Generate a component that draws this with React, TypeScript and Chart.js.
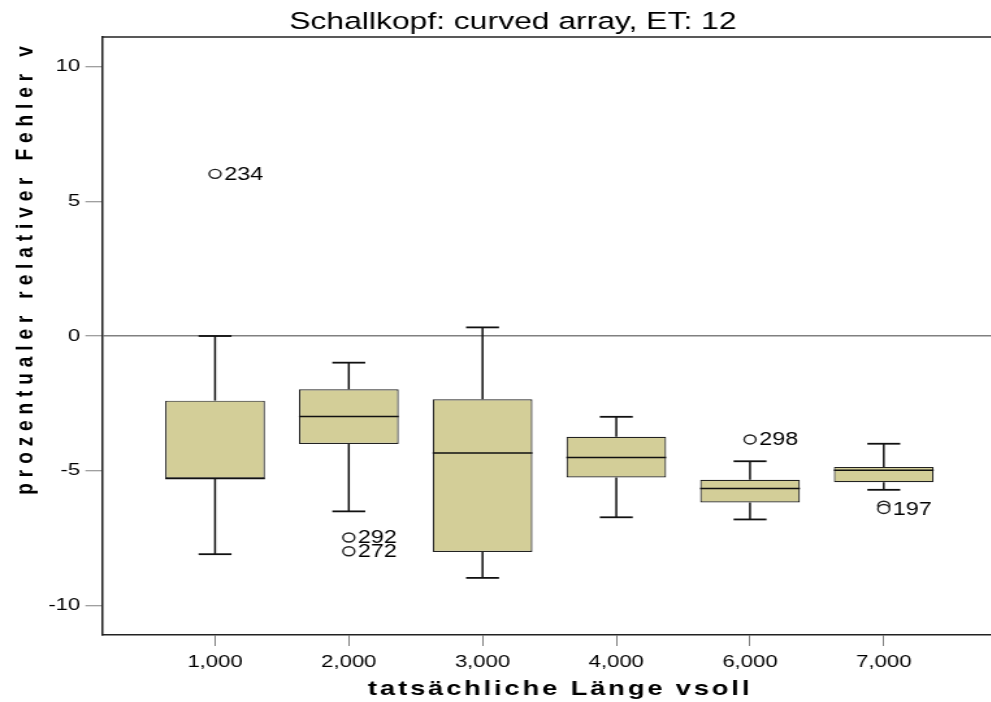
import React, { useEffect, useRef } from 'react';
import { Chart, registerables, LinearScale } from 'chart.js';

Chart.register(...registerables);

// Linear scale whose axis title can carry letter spacing and a shift along the axis
class SpacedLinearScale extends LinearScale {
  static id = 'spacedLinear';
  static defaults = LinearScale.defaults;
  drawTitle() {
    const opts: any = this.options;
    const ctx: any = this.ctx;
    const shift = opts.titleShift || 0;
    ctx.save();
    ctx.letterSpacing = (opts.titleLetterSpacing || 0) + 'px';
    const top = this.top;
    const bottom = this.bottom;
    this.top = top + shift;
    this.bottom = bottom + shift;
    super.drawTitle();
    this.top = top;
    this.bottom = bottom;
    ctx.restore();
  }
}
Chart.register(SpacedLinearScale);

// ---- data ----
const categories = ['1,000', '2,000', '3,000', '4,000', '6,000', '7,000'];
const categoryPositions = [1, 2, 3, 4, 5, 6];
const lowerWhisker = [-8.1, -6.51, -8.98, -6.73, -6.81, -5.71];
const q1 = [-5.29, -4.01, -8.02, -5.25, -6.18, -5.43];
const medians = [-5.29, -2.99, -4.34, -4.51, -5.66, -4.98];
const q3 = [-2.4, -1.98, -2.35, -3.74, -5.34, -4.86];
const upperWhisker = [0.0, -0.99, 0.32, -3.0, -4.65, -4.0];
const outlierCategories = ['1,000', '2,000', '2,000', '6,000', '7,000', '7,000'];
const outlierValues = [6.02, -7.48, -7.99, -3.84, -6.3, -6.42];
const outlierLabels = ['234', '292', '272', '298', '', '197'];
const yTicks = [-10, -5, 0, 5, 10];

const FONT = "'Liberation Sans', Arial, Helvetica, sans-serif";
const STRETCH = 1.3;
const CANVAS_W = 789;
const CANVAS_H = 702;

const boxPlugin = {
  id: 'boxWhiskers',
  afterDatasetsDraw(chart: any) {
    const { ctx } = chart;
    const x = chart.scales.x;
    const y = chart.scales.y;
    const meta = chart.getDatasetMeta(0);
    const line = (x1: number, y1: number, x2: number, y2: number, w: number) => {
      ctx.beginPath();
      ctx.lineWidth = w;
      ctx.moveTo(x1, y1);
      ctx.lineTo(x2, y2);
      ctx.stroke();
    };
    ctx.save();
    ctx.strokeStyle = '#111';
    categoryPositions.forEach((pos, i) => {
      const bar = meta.data[i];
      const cx = x.getPixelForValue(pos);
      const w = bar ? bar.width : 77;
      const cap = w * 0.33;
      const yQ3 = y.getPixelForValue(q3[i]);
      const yQ1 = y.getPixelForValue(q1[i]);
      const yUp = y.getPixelForValue(upperWhisker[i]);
      const yLo = y.getPixelForValue(lowerWhisker[i]);
      const yMed = y.getPixelForValue(medians[i]);
      line(cx, yQ3, cx, yUp, 1.5);
      line(cx, yQ1, cx, yLo, 1.5);
      line(cx - cap / 2, yUp, cx + cap / 2, yUp, 1.8);
      line(cx - cap / 2, yLo, cx + cap / 2, yLo, 1.8);
      line(cx - w / 2, yMed, cx + w / 2, yMed, 1.5);
    });
    // outlier labels
    ctx.fillStyle = '#000';
    ctx.font = `18px ${FONT}`;
    ctx.textBaseline = 'middle';
    ctx.textAlign = 'left';
    outlierValues.forEach((v, i) => {
      if (!outlierLabels[i]) return;
      const pos = categoryPositions[categories.indexOf(outlierCategories[i])];
      ctx.fillText(outlierLabels[i], x.getPixelForValue(pos) + 7, y.getPixelForValue(v) + 1);
    });
    ctx.restore();
  },
  afterDraw(chart: any) {
    const { ctx, chartArea } = chart;
    ctx.save();
    ctx.strokeStyle = '#222';
    ctx.lineWidth = 1.5;
    ctx.beginPath();
    ctx.moveTo(chartArea.left, chartArea.top);
    ctx.lineTo(chartArea.right, chartArea.top);
    ctx.stroke();
    ctx.restore();
  },
};

export default function App() {
  const canvasRef = useRef<HTMLCanvasElement | null>(null);

  useEffect(() => {
    if (!canvasRef.current) return;
    const chart = new Chart(canvasRef.current, {
      type: 'bar',
      data: {
        datasets: [
          {
            type: 'bar',
            data: categoryPositions.map((p, i) => ({ x: p, y: [q1[i], q3[i]] })),
            backgroundColor: '#d3ce98',
            borderColor: '#222',
            borderWidth: 1.2,
            borderSkipped: false,
            barPercentage: 0.746,
            categoryPercentage: 1,
            order: 2,
          } as any,
          {
            type: 'scatter',
            data: outlierValues.map((v, i) => ({
              x: categoryPositions[categories.indexOf(outlierCategories[i])],
              y: v,
            })),
            pointRadius: 4.5,
            pointBackgroundColor: '#fff',
            pointBorderColor: '#222',
            pointBorderWidth: 1.4,
            order: 1,
          } as any,
        ],
      },
      options: {
        animation: false,
        responsive: false,
        devicePixelRatio: 1,
        events: [],
        layout: { padding: 0 },
        plugins: {
          legend: { display: false },
          tooltip: { enabled: false },
          title: {
            display: true,
            text: 'Schallkopf: curved array, ET: 12',
            color: '#000',
            font: { family: FONT, size: 24.5, weight: 'normal', lineHeight: 1.2 },
            padding: { top: 7.6, bottom: 0 },
          },
        },
        scales: {
          x: {
            type: 'spacedLinear',
            position: 'bottom',
            min: 0.157,
            max: 7.004,
            offset: false,
            afterBuildTicks: (s: any) => {
              s.ticks = categoryPositions.map((v) => ({ value: v }));
            },
            afterFit: (s: any) => {
              s.height = 67;
            },
            grid: {
              display: true,
              drawOnChartArea: false,
              offset: false,
              tickLength: 11,
              tickColor: '#808080',
              tickWidth: 1,
            },
            border: { display: true, color: '#222', width: 1.5 },
            ticks: {
              autoSkip: false,
              maxRotation: 0,
              padding: 6,
              color: '#000',
              font: { family: FONT, size: 17 },
              callback: (v: any) => {
                const idx = categoryPositions.indexOf(Number(v));
                return idx >= 0 ? categories[idx] : '';
              },
            },
            title: {
              display: true,
              text: 'tatsächliche Länge vsoll',
              color: '#000',
              font: { family: FONT, size: 21, weight: 'bold', lineHeight: 1.2 },
              padding: { top: 0, bottom: 0 },
            },
            titleLetterSpacing: 2.2,
          } as any,
          y: {
            type: 'spacedLinear',
            position: 'left',
            min: -11.1,
            max: 11.1,
            beginAtZero: false,
            afterBuildTicks: (s: any) => {
              s.ticks = yTicks.map((v) => ({ value: v }));
            },
            afterFit: (s: any) => {
              s.width = 78.7;
            },
            grid: {
              display: true,
              drawOnChartArea: true,
              color: (c: any) => (c.tick && c.tick.value === 0 ? '#808080' : 'rgba(0,0,0,0)'),
              lineWidth: 1.5,
              tickLength: 13,
              tickColor: '#808080',
              tickWidth: 1,
            },
            border: { display: true, color: '#222', width: 1.5 },
            ticks: {
              padding: 4,
              color: '#000',
              font: { family: FONT, size: 17 },
              callback: (v: any) => String(v),
            },
            title: {
              display: true,
              text: 'prozentualer relativer Fehler v',
              color: '#000',
              font: { family: FONT, size: 19, weight: 'bold', lineHeight: 1.2 },
              padding: { top: 8.2, bottom: 0 },
            },
            titleLetterSpacing: 5.9,
            titleShift: -68.5,
          } as any,
        },
      } as any,
      plugins: [boxPlugin],
    });
    return () => chart.destroy();
  }, []);

  return (
    <div
      style={{
        position: 'absolute',
        left: 0,
        top: 0,
        width: 991,
        height: 702,
        overflow: 'hidden',
        background: '#fff',
      }}
    >
      <div
        style={{
          width: CANVAS_W,
          height: CANVAS_H,
          transform: `scaleX(${STRETCH})`,
          transformOrigin: '0 0',
        }}
      >
        <canvas
          ref={canvasRef}
          width={CANVAS_W}
          height={CANVAS_H}
          style={{ display: 'block', width: CANVAS_W, height: CANVAS_H }}
        />
      </div>
    </div>
  );
}
